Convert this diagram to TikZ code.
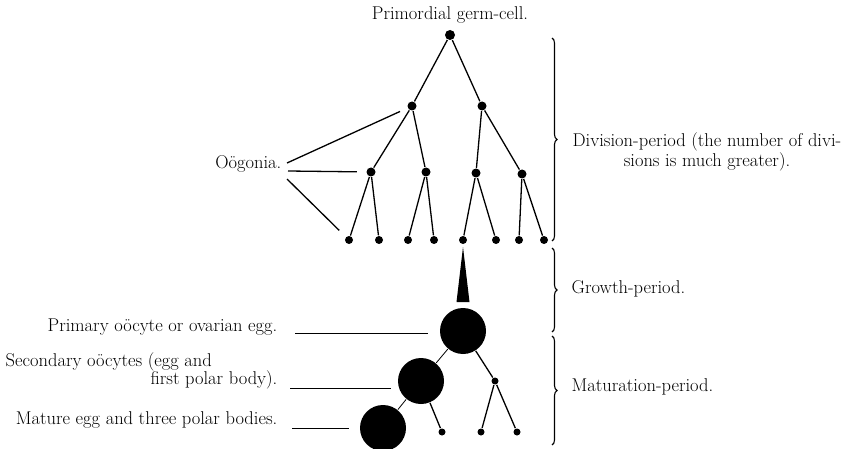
\documentclass[tikz,border=0pt]{standalone}
\usetikzlibrary{decorations.pathreplacing,positioning,calc}
\begin{document}
\begin{tikzpicture}[x=1pt,y=-1pt,line width=1.3pt,
  cell/.style={circle,fill,inner sep=0pt,minimum size=#1},cell/.default=9pt,
  egg/.style={circle,fill,inner sep=0pt,minimum size=46pt},
  lbl/.style={font=\fontsize{18.5}{15}\selectfont,inner sep=0pt},
  brc/.style={decorate,decoration={brace,amplitude=5pt},line width=1.1pt}]
\useasboundingbox (0,0) rectangle (848,449);
% division period
\node[cell=10pt] (p) at (450,35) {};\node[lbl,anchor=base] (ptxt) at (450,20) {Primordial germ-cell.};
\node[cell] (a) at (412,106) {};\node[cell] (b) at (482,106) {};
\node[cell] (a1) at (371,172) {};\node[cell] (a2) at (426,172) {};\node[cell] (b1) at (476,173) {};\node[cell] (b2) at (522,174) {};
\foreach \i/\x in {1/349,2/379,3/408,4/434,5/463,6/496,7/519,8/544} \node[cell=8pt] (c\i) at (\x,240) {};
\draw (p)--(a) (p)--(b) (a)--(a1) (a)--(a2) (b)--(b1) (b)--(b2);
\draw (a1)--(c1) (a1)--(c2) (a2)--(c3) (a2)--(c4) (b1)--(c5) (b1)--(c6) (b2)--(c7) (b2)--(c8);
\node[lbl,anchor=base east] (og) at (282,169) {O\"ogonia.};
\coordinate (og1) at (287,163);\coordinate (og2) at (288,171);\coordinate (og3) at (287,179);
\draw[shorten >=8pt] (og1)--(a);\draw[shorten >=9pt] (og2)--(a1);\draw[shorten >=9pt] (og3)--(c1);
% growth and maturation
\node[egg] (ooc) at (463,331) {};\node[egg] (sec) at (421,381) {};\node[egg] (mat) at (383,428) {};
\fill ($(c5)+(0,7)$) -- ($(ooc)+(-6.5,-29)$) -- ($(ooc)+(6.5,-29)$) -- cycle;
\node[cell=7pt] (pb) at (495,381) {};
\foreach \i/\x in {2/442,3/481,4/517} \node[cell=7pt] (m\i) at (\x,432) {};
\draw[line width=.8pt] (ooc)--(sec) (sec)--(mat);
\draw (ooc)--(pb) (pb)--(m3) (pb)--(m4) (sec)--(m2);
\node[lbl,anchor=base east] (t1) at (278,331) {Primary o\"ocyte or ovarian egg.};
\node[lbl,anchor=base west] (t2) at (5,366) {Secondary o\"ocytes (egg and};
\node[lbl,anchor=base east] (t2b) at (278,384) {first polar body).};
\node[lbl,anchor=base east] (t3) at (278,424) {Mature egg and three polar bodies.};
\coordinate (l1) at (295,333);\coordinate (l2) at (290,388);\coordinate (l3) at (292,428);
\draw[line width=1pt,shorten >=11pt] (l1)--(l1 -| ooc.west);
\draw[line width=1pt,shorten >=6pt] (l2)--(l2 -| sec.west);
\draw[line width=1pt,shorten >=10pt] (l3)--(l3 -| mat.west);
% braces
\draw[brc] (552,38)--(552,241);\draw[brc] (552,248)--(552,332);\draw[brc] (552,336)--(552,445);
\node[lbl,align=center,anchor=west] (dtxt) at (572,152) {Division-period (the number of divi-\\sions is much greater).};
\node[lbl,anchor=base west] (gtxt) at (571,293) {Growth-period.};
\node[lbl,anchor=base west] (mtxt) at (571,391) {Maturation-period.};
\end{tikzpicture}
\end{document}
